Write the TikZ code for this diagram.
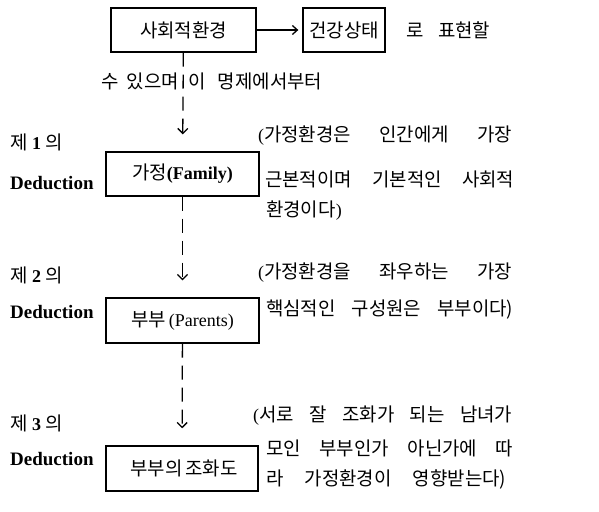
\documentclass[tikz,border=0pt]{standalone}
\usepackage{fontspec}
\setmainfont{Liberation Serif}
\newfontfamily\kr[Scale=1.05]{Noto Sans CJK KR}
\usetikzlibrary{arrows.meta}
\begin{document}
\begin{tikzpicture}[x=1pt,y=-1pt,
  box/.style={draw,line width=1.3pt,inner sep=0pt,minimum height=44pt},
  txt/.style={inner sep=0pt,font=\fontsize{18}{20}\selectfont},
  lab/.style={inner sep=0pt,anchor=west,font=\fontsize{18}{20}\selectfont},
  ded/.style={inner sep=0pt,anchor=west,font=\fontsize{19}{21}\selectfont\bfseries},
  flow/.style={line width=1.3pt,dash pattern=on 14pt off 8pt,-{Straight Barb[length=5pt,width=10pt,line width=1.3pt]},shorten >=17pt},
  harrow/.style={line width=1.3pt,-{Straight Barb[length=5pt,width=9pt,line width=1.3pt]},shorten >=4pt}
]
\useasboundingbox (0,0) rectangle (599,511);
% top row
\node[box,minimum width=145pt,txt] (se) at (183.5,30) {\kr 사회적환경};
\node[box,minimum width=82pt,txt] (hs) at (344,30) {\kr 건강상태};
\node[txt,anchor=west] (t1) at (406,30) {\makebox[84pt][s]{\kr 로 표현할}};
\node[txt,anchor=east] (t2a) at (179,81) {\makebox[77pt][s]{\kr 수 있으며}};
\node[txt,anchor=west] (t2b) at (188,81) {\makebox[134pt][s]{\kr 이 명제에서부터}};
\draw[harrow] (se) -- (hs);
% boxes
\node[box,minimum width=153pt,txt] (fam) at (182.5,174) {{\kr 가정}{\bfseries (Family)}};
\node[box,minimum width=153pt,minimum height=45pt,txt] (par) at (182.5,320.5) {{\kr 부부}\,(Parents)};
\node[box,minimum width=152pt,minimum height=45pt,txt] (har) at (182,468.5) {\makebox[103pt][s]{\kr 부부의 조화도}};
% connectors
\draw[flow] (se) -- (fam);
\draw[flow] (fam) -- (par);
\draw[flow] (par) -- (har);
% left labels
\node[lab] (l1) at (10,142) {{\kr 제} \textbf{1} {\kr 의}};
\node[ded] (d1) at (10,183) {Deduction};
\node[lab] (l2) at (10,275) {{\kr 제} \textbf{2} {\kr 의}};
\node[ded] (d2) at (10,312) {Deduction};
\node[lab] (l3) at (10,423) {{\kr 제} \textbf{3} {\kr 의}};
\node[ded] (d3) at (10,459) {Deduction};
% comments
\node[txt,anchor=west] (c11) at (258,136) {\makebox[254pt][s]{(\kr 가정환경은 인간에게 가장}};
\node[txt,anchor=west] (c12) at (265,179) {\makebox[249pt][s]{\kr 근본적이며 기본적인 사회적}};
\node[txt,anchor=west] (c13) at (266,211) {{\kr 환경이다})};
\node[txt,anchor=west] (c21) at (258,273) {\makebox[254pt][s]{(\kr 가정환경을 좌우하는 가장}};
\node[txt,anchor=west] (c22) at (266,310) {\makebox[247pt][s]{\kr 핵심적인 구성원은 부부이다)}};
\node[txt,anchor=west] (c31) at (253,416) {\makebox[259pt][s]{(\kr 서로 잘 조화가 되는 남녀가}};
\node[txt,anchor=west] (c32) at (266,448) {\makebox[247pt][s]{\kr 모인 부부인가 아닌가에 따}};
\node[txt,anchor=west] (c33) at (266,479) {\makebox[240pt][s]{\kr 라 가정환경이 영향받는다)}};
\end{tikzpicture}
\end{document}
